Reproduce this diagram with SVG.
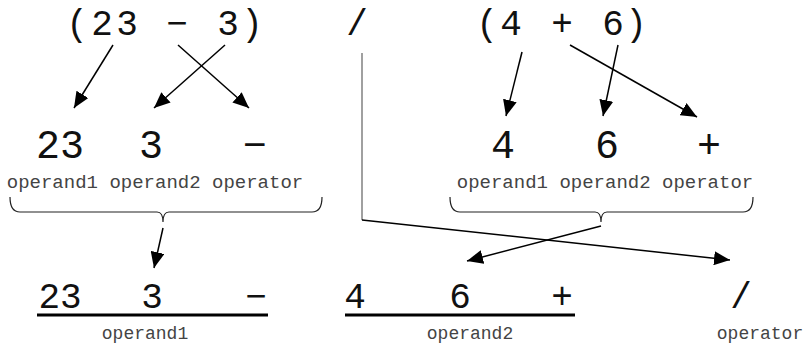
<svg xmlns="http://www.w3.org/2000/svg" width="807" height="347" viewBox="0 0 807 347">
<defs>
<marker id="ah" markerUnits="userSpaceOnUse" markerWidth="18" markerHeight="14" refX="16" refY="7" orient="auto">
<path d="M0,0 L16,7 L0,14 z" fill="#000"/>
</marker>
<style>
.big{font-family:"Liberation Mono","Courier New",monospace;fill:#111;text-anchor:middle}
.t1{font-size:36px}
.t2{font-size:40px}
.t3{font-size:36px}
.lbl{font-family:"Liberation Mono","Courier New",monospace;font-size:18px;fill:#444;text-anchor:middle}
.lbl2{font-size:19px}
.ar{stroke:#000;stroke-width:1.5;fill:none;marker-end:url(#ah)}
.brace{stroke:#222;stroke-width:1.2;fill:none}
.ul{stroke:#000;stroke-width:3}
</style>
</defs>
<rect width="807" height="347" fill="#fff"/>

<g id="expr1">
<text class="big t1" x="77" y="35">(</text>
<text class="big t1" x="102" y="35">2</text>
<text class="big t1" x="127" y="35">3</text>
<text class="big t1" x="177" y="35">−</text>
<text class="big t1" x="228" y="35">3</text>
<text class="big t1" x="252" y="35">)</text>
</g>
<g id="slash-top"><text class="big t1" x="357" y="35">/</text></g>
<g id="expr2">
<text class="big t1" x="487" y="35">(</text>
<text class="big t1" x="511" y="35">4</text>
<text class="big t1" x="562" y="35">+</text>
<text class="big t1" x="613" y="35">6</text>
<text class="big t1" x="636" y="35">)</text>
</g>

<g id="split1">
<text class="big t2" x="60" y="158">23</text>
<text class="big t2" x="151" y="158">3</text>
<text class="big t2" x="255" y="158">−</text>
<text class="lbl lbl2" x="155" y="188">operand1 operand2 operator</text>
<path class="brace" d="M10,197 Q10,212 20,212 L157,212 Q163,212 163,222 Q163,212 169,212 L312,212 Q322,212 322,197"/>
</g>
<g id="split2">
<text class="big t2" x="503" y="158">4</text>
<text class="big t2" x="607" y="158">6</text>
<text class="big t2" x="709" y="158">+</text>
<text class="lbl lbl2" x="605" y="188">operand1 operand2 operator</text>
<path class="brace" d="M450,197 Q450,212 460,212 L595,212 Q601,212 601,222 Q601,212 607,212 L743,212 Q753,212 753,197"/>
</g>

<g id="result">
<text class="big t3" x="60" y="308">23</text>
<text class="big t3" x="152" y="308">3</text>
<text class="big t3" x="256" y="308">−</text>
<line class="ul" x1="37" y1="315" x2="268" y2="315"/>
<text class="lbl" x="145" y="339">operand1</text>
<text class="big t3" x="355" y="308">4</text>
<text class="big t3" x="460" y="308">6</text>
<text class="big t3" x="562" y="308">+</text>
<line class="ul" x1="345" y1="315" x2="575" y2="315"/>
<text class="lbl" x="470" y="339">operand2</text>
<text class="big t3" x="741" y="308">/</text>
<text class="lbl" x="760" y="339">operator</text>
</g>

<g id="connectors">
<line class="ar" x1="113" y1="45" x2="74" y2="108"/>
<line class="ar" x1="225" y1="45" x2="154" y2="108"/>
<line class="ar" x1="178" y1="45" x2="249" y2="108"/>
<line class="ar" x1="522" y1="52" x2="506" y2="116"/>
<line class="ar" x1="618" y1="45" x2="603" y2="116"/>
<line class="ar" x1="570" y1="45" x2="697" y2="117"/>
<line class="ar" x1="163" y1="228" x2="154" y2="268"/>
<line class="ar" x1="601" y1="226" x2="467" y2="261"/>
<line x1="362" y1="53" x2="362" y2="220" stroke="#808080" stroke-width="1.5"/>
<line class="ar" x1="362" y1="220" x2="730" y2="260"/>
</g>
</svg>
